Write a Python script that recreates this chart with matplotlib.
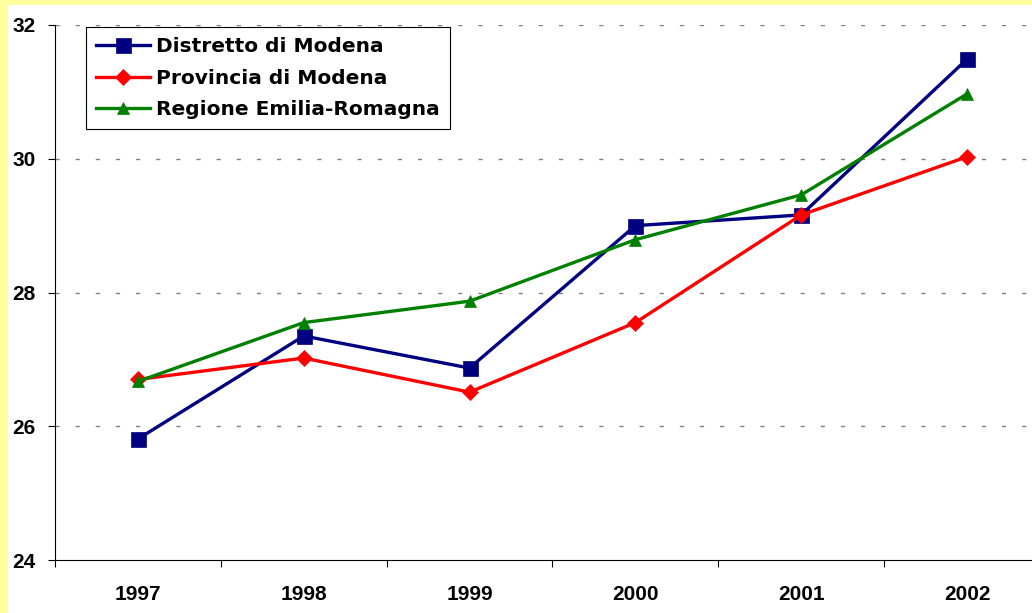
import matplotlib.pyplot as plt
from matplotlib.patches import Rectangle
from matplotlib.ticker import FixedLocator

# values
years = ['1997', '1998', '1999', '2000', '2001', '2002']
distretto = [25.81, 27.35, 26.87, 29.00, 29.16, 31.49]
provincia = [26.70, 27.02, 26.51, 27.55, 29.16, 30.03]
regione = [26.67, 27.55, 27.87, 28.79, 29.46, 30.97]
labels = ['Distretto di Modena', 'Provincia di Modena', 'Regione Emilia-Romagna']
y_ticks = [24, 26, 28, 30, 32]

W, H = 1032, 613
fig = plt.figure(figsize=(W / 100, H / 100), dpi=100, facecolor='#FFFFA0')
# white panel, yellow strip left and top
fig.add_artist(Rectangle((8 / W, 0), 1, 1 - 5 / H, transform=fig.transFigure,
                         facecolor='white', edgecolor='none', zorder=-5))

ax = fig.add_axes([55 / W, 1 - 560 / H, 995 / W, 535 / H])
ax.set_facecolor('none')

x = list(range(len(years)))
ax.plot(x, distretto, color='#000080', lw=2.4, marker='s', ms=10.8,
        mec='#000080', mew=0.5, label=labels[0], clip_on=False)
ax.plot(x, provincia, color='#FF0000', lw=2.4, marker='D', ms=8.2,
        mec='#FF0000', mew=0.5, label=labels[1], clip_on=False)
ax.plot(x, regione, color='#008000', lw=2.4, marker='^', ms=9.0,
        mec='#008000', mew=0.5, label=labels[2], clip_on=False)

ax.set_xlim(-0.5, len(years) - 0.5)
ax.set_ylim(24, 32)

ax.set_yticks(y_ticks)
ax.set_yticklabels([str(v) for v in y_ticks])
ax.set_xticks(x)
ax.set_xticklabels(years)
ax.xaxis.set_minor_locator(FixedLocator([i - 0.5 for i in range(len(years) + 1)]))

for t in ax.get_xticklabels() + ax.get_yticklabels():
    t.set_fontfamily('Liberation Sans')
    t.set_fontweight('bold')
    t.set_fontsize(15)

ax.tick_params(axis='x', which='major', length=0, pad=18)
ax.tick_params(axis='x', which='minor', length=5, width=0.8, direction='out')
ax.tick_params(axis='y', which='major', length=5, width=0.8, direction='out', pad=9)

for s in ['top', 'right']:
    ax.spines[s].set_visible(False)
for s in ['left', 'bottom']:
    ax.spines[s].set_linewidth(0.8)
    ax.spines[s].set_color('black')

for v in y_ticks[1:]:
    ax.axhline(v, color='#808080', lw=1.0, ls=(0, (3, 11.5)), zorder=0.5)

leg = ax.legend(loc='upper left', bbox_to_anchor=(86 / W, 1 - 27 / H),
                bbox_transform=fig.transFigure, borderaxespad=0,
                prop=dict(family='DejaVu Sans', weight='bold', size=14.5),
                handlelength=2.7, handletextpad=0.3, labelspacing=0.62,
                borderpad=0.5, fancybox=False, framealpha=1, edgecolor='black')
leg.get_frame().set_linewidth(0.8)

fig.savefig('out.png', dpi=100, facecolor=fig.get_facecolor())
